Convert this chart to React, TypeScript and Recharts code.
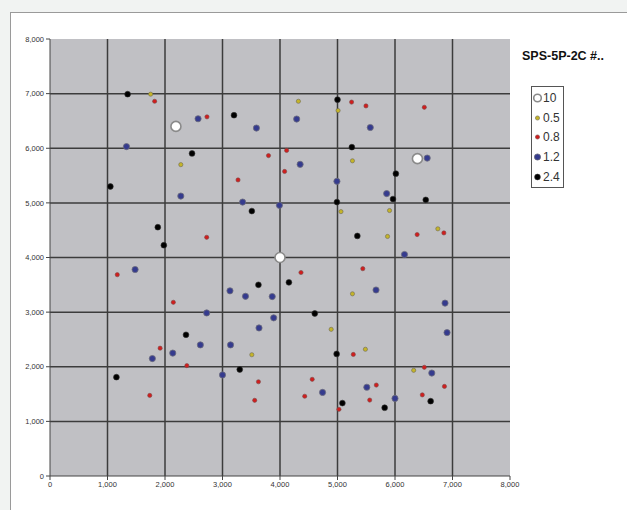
import React from "react";
import {
  ScatterChart,
  Scatter,
  XAxis,
  YAxis,
  ReferenceArea,
  ReferenceLine,
} from "recharts";

const TICKS = [0, 1000, 2000, 3000, 4000, 5000, 6000, 7000, 8000];
const GRID = [1000, 2000, 3000, 4000, 5000, 6000, 7000];
const TITLE = "SPS-5P-2C #..";

// [x, y] pairs per series
const S10 = [[2190, 6400], [6390, 5810], [4000, 4000]];
const S05 = [
  [1750, 6990], [2275, 5700], [4320, 6860], [5010, 6690], [5260, 5770], [5060, 4840],
  [5905, 4860], [5870, 4385], [6745, 4525], [3510, 2220], [5260, 3335], [4890, 2685],
  [5485, 2320], [6325, 1935],
];
const S08 = [
  [1820, 6860], [2730, 6575], [3800, 5865], [4080, 5575], [3270, 5420], [2725, 4370],
  [5245, 6845], [5495, 6775], [6510, 6750], [4115, 5960], [6385, 4420], [6850, 4450],
  [1170, 3685], [2145, 3180], [1915, 2340], [2380, 2020], [3625, 1725], [1735, 1475],
  [3560, 1385], [4365, 3725], [5440, 3795], [5275, 2225], [6510, 1990], [4560, 1770],
  [6860, 1640], [5675, 1665], [4430, 1460], [6475, 1485], [5560, 1390], [5025, 1220],
];
const S12 = [
  [2575, 6540], [3590, 6370], [1330, 6030], [2275, 5125], [3350, 5015], [3990, 4955],
  [4290, 6535], [5570, 6380], [6560, 5820], [4350, 5705], [4990, 5395], [5855, 5170],
  [6165, 4055], [1480, 3780], [3130, 3390], [3400, 3290], [3865, 3285], [2725, 2985],
  [3890, 2895], [3635, 2710], [2615, 2400], [3140, 2400], [1780, 2150], [2135, 2250],
  [3000, 1850], [5670, 3405], [6870, 3165], [6905, 2625], [6640, 1885], [5510, 1625],
  [4740, 1530], [6000, 1420],
];
const S24 = [
  [1350, 6990], [3200, 6605], [2470, 5905], [1050, 5300], [3510, 4850], [1875, 4555],
  [1980, 4225], [5000, 6890], [5250, 6020], [6015, 5535], [5965, 5070], [6535, 5055],
  [4990, 5015], [5345, 4395], [3625, 3500], [2365, 2585], [3300, 1950], [1155, 1810],
  [4155, 3545], [4605, 2975], [4985, 2235], [5085, 1335], [6620, 1370], [5820, 1250],
];

const SERIES = [
  { name: "10", pts: S10, r: 5, fill: "#ffffff", stroke: "#8a8a8a", sw: 1.6 },
  { name: "0.5", pts: S05, r: 2.1, fill: "#c4b42a", stroke: "#6f6a50", sw: 0.6 },
  { name: "0.8", pts: S08, r: 2.1, fill: "#d01e1e", stroke: "#7a4a4a", sw: 0.6 },
  { name: "1.2", pts: S12, r: 3.1, fill: "#353b8e", stroke: "#6c6c7c", sw: 0.8 },
  { name: "2.4", pts: S24, r: 2.9, fill: "#000000", stroke: "#333333", sw: 0.6 },
];

const fmt = (v: number) => (v === 0 ? "0" : v.toLocaleString("en-US"));
const tickStyle = { fontSize: 7.5, fill: "#333", fontFamily: "Liberation Sans, Arial, sans-serif" };

function LegendBox() {
  return (
    <div style={{ position: "absolute", left: 522, top: 49, width: 110, height: 150 }}>
      <div style={{ position: "absolute", left: 0, top: 0, fontWeight: 700, fontSize: 12.5, color: "#111", whiteSpace: "nowrap" }}>
        {TITLE}
      </div>
      <div
        style={{
          position: "absolute",
          left: 9,
          top: 37,
          width: 31,
          height: 100,
          border: "1px solid #555",
          background: "#fff",
        }}
      >
        {SERIES.map((s, i) => (
          <div key={s.name} style={{ position: "absolute", left: 1, top: 3 + i * 19.7, height: 16, display: "flex", alignItems: "center" }}>
            <svg width={9} height={12}>
              <circle cx={4.5} cy={6} r={Math.min(s.r, 3.8)} fill={s.fill} stroke={s.stroke} strokeWidth={s.sw} />
            </svg>
            <span style={{ fontSize: 12, color: "#333", marginLeft: 1 }}>{s.name}</span>
          </div>
        ))}
      </div>
    </div>
  );
}

export default function App() {
  return (
    <div style={{ position: "fixed", left: 0, top: 0, width: 627, height: 510, background: "#f1f3f2", fontFamily: "Liberation Sans, Arial, sans-serif", overflow: "hidden" }}>
      <div style={{ position: "absolute", left: 10, top: 12, width: 640, height: 520, background: "#fff", border: "1px solid #9a9a9a" }} />
      <div style={{ position: "absolute", left: 0, top: 0 }}>
        <ScatterChart width={627} height={510} margin={{ top: 39, right: 117, bottom: 4, left: 10 }}>
          <XAxis
            type="number"
            dataKey="x"
            domain={[0, 8000]}
            ticks={TICKS}
            tickFormatter={fmt}
            tick={tickStyle}
            tickSize={4}
            height={30}
            stroke="#444"
            allowDataOverflow
          />
          <YAxis
            type="number"
            dataKey="y"
            domain={[0, 8000]}
            ticks={TICKS}
            tickFormatter={fmt}
            tick={tickStyle}
            tickSize={4}
            width={40}
            stroke="#444"
            allowDataOverflow
          />
          <ReferenceArea x1={0} x2={8000} y1={0} y2={8000} fill="#c0c0c4" fillOpacity={1} stroke="none" />
          {GRID.map((g) => (
            <ReferenceLine key={"v" + g} x={g} stroke="#3c3c3c" strokeWidth={1.5} />
          ))}
          {GRID.map((g) => (
            <ReferenceLine key={"h" + g} y={g} stroke="#3c3c3c" strokeWidth={1.5} />
          ))}
          {SERIES.map((s) => (
            <Scatter
              key={s.name}
              name={s.name}
              data={s.pts.map(([x, y]) => ({ x, y }))}
              isAnimationActive={false}
              shape={(p: any) => (
                <circle cx={p.cx} cy={p.cy} r={s.r} fill={s.fill} stroke={s.stroke} strokeWidth={s.sw} />
              )}
            />
          ))}
        </ScatterChart>
      </div>
      <LegendBox />
    </div>
  );
}
